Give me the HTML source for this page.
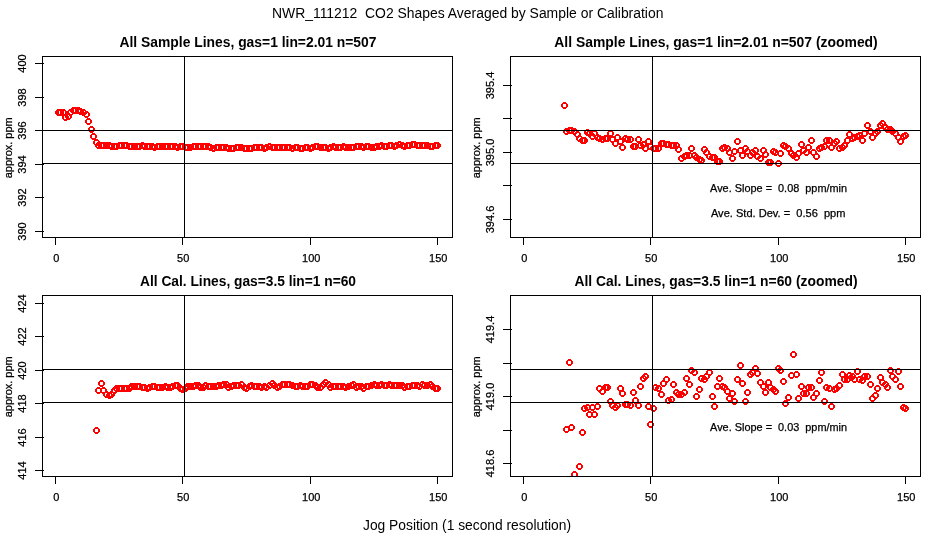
<!DOCTYPE html>
<html lang="en"><head><meta charset="utf-8"><title>NWR_111212 CO2 Shapes</title>
<style>html,body{margin:0;padding:0;background:#fff;overflow:hidden}svg{display:block}</style>
</head><body>
<svg width="936" height="540" viewBox="0 0 936 540">
<rect width="936" height="540" fill="#fff"/>
<defs><path id="o" fill-rule="evenodd" d="M2 0h3v1h1v1h1v3h-1v1h-1v1h-3v-1h-1v-1h-1v-3h1v-1h1zM2 2v3h3v-3z"/></defs>
<text font-family="Liberation Sans, sans-serif" font-size="14" text-anchor="middle" x="467.7" y="18" textLength="391.5" lengthAdjust="spacingAndGlyphs" xml:space="preserve">NWR_111212  CO2 Shapes Averaged by Sample or Calibration</text>
<text font-family="Liberation Sans, sans-serif" font-size="14" text-anchor="middle" x="467" y="529.5" textLength="208" lengthAdjust="spacingAndGlyphs">Jog Position (1 second resolution)</text>
<g>
<clipPath id="cp1"><rect x="43" y="57" width="409" height="180"/></clipPath>
<g clip-path="url(#cp1)" fill="#ff0000" shape-rendering="crispEdges">
<use href="#o" x="55" y="109"/>
<use href="#o" x="57" y="109"/>
<use href="#o" x="60" y="109"/>
<use href="#o" x="62" y="114"/>
<use href="#o" x="65" y="113"/>
<use href="#o" x="67" y="109"/>
<use href="#o" x="70" y="107"/>
<use href="#o" x="72" y="107"/>
<use href="#o" x="75" y="107"/>
<use href="#o" x="77" y="108"/>
<use href="#o" x="80" y="109"/>
<use href="#o" x="83" y="111"/>
<use href="#o" x="85" y="118"/>
<use href="#o" x="88" y="126"/>
<use href="#o" x="90" y="133"/>
<use href="#o" x="93" y="139"/>
<use href="#o" x="95" y="142"/>
<use href="#o" x="98" y="142"/>
<use href="#o" x="100" y="142"/>
<use href="#o" x="103" y="142"/>
<use href="#o" x="106" y="142"/>
<use href="#o" x="108" y="143"/>
<use href="#o" x="111" y="143"/>
<use href="#o" x="113" y="143"/>
<use href="#o" x="116" y="142"/>
<use href="#o" x="118" y="142"/>
<use href="#o" x="121" y="142"/>
<use href="#o" x="123" y="142"/>
<use href="#o" x="126" y="143"/>
<use href="#o" x="128" y="143"/>
<use href="#o" x="131" y="143"/>
<use href="#o" x="134" y="143"/>
<use href="#o" x="136" y="143"/>
<use href="#o" x="139" y="142"/>
<use href="#o" x="141" y="143"/>
<use href="#o" x="144" y="143"/>
<use href="#o" x="146" y="143"/>
<use href="#o" x="149" y="143"/>
<use href="#o" x="151" y="144"/>
<use href="#o" x="154" y="143"/>
<use href="#o" x="156" y="143"/>
<use href="#o" x="159" y="143"/>
<use href="#o" x="162" y="143"/>
<use href="#o" x="164" y="143"/>
<use href="#o" x="167" y="143"/>
<use href="#o" x="169" y="143"/>
<use href="#o" x="172" y="143"/>
<use href="#o" x="174" y="144"/>
<use href="#o" x="177" y="143"/>
<use href="#o" x="179" y="143"/>
<use href="#o" x="182" y="144"/>
<use href="#o" x="184" y="144"/>
<use href="#o" x="187" y="144"/>
<use href="#o" x="190" y="143"/>
<use href="#o" x="192" y="143"/>
<use href="#o" x="195" y="143"/>
<use href="#o" x="197" y="143"/>
<use href="#o" x="200" y="143"/>
<use href="#o" x="202" y="143"/>
<use href="#o" x="205" y="143"/>
<use href="#o" x="207" y="144"/>
<use href="#o" x="210" y="145"/>
<use href="#o" x="213" y="144"/>
<use href="#o" x="215" y="144"/>
<use href="#o" x="218" y="144"/>
<use href="#o" x="220" y="144"/>
<use href="#o" x="223" y="144"/>
<use href="#o" x="225" y="145"/>
<use href="#o" x="228" y="145"/>
<use href="#o" x="230" y="145"/>
<use href="#o" x="233" y="144"/>
<use href="#o" x="235" y="144"/>
<use href="#o" x="238" y="144"/>
<use href="#o" x="241" y="145"/>
<use href="#o" x="243" y="145"/>
<use href="#o" x="246" y="145"/>
<use href="#o" x="248" y="145"/>
<use href="#o" x="251" y="144"/>
<use href="#o" x="253" y="144"/>
<use href="#o" x="256" y="144"/>
<use href="#o" x="258" y="144"/>
<use href="#o" x="261" y="145"/>
<use href="#o" x="263" y="144"/>
<use href="#o" x="266" y="143"/>
<use href="#o" x="269" y="144"/>
<use href="#o" x="271" y="144"/>
<use href="#o" x="274" y="144"/>
<use href="#o" x="276" y="144"/>
<use href="#o" x="279" y="144"/>
<use href="#o" x="281" y="144"/>
<use href="#o" x="284" y="144"/>
<use href="#o" x="286" y="144"/>
<use href="#o" x="289" y="145"/>
<use href="#o" x="292" y="144"/>
<use href="#o" x="294" y="144"/>
<use href="#o" x="297" y="145"/>
<use href="#o" x="299" y="145"/>
<use href="#o" x="302" y="144"/>
<use href="#o" x="304" y="144"/>
<use href="#o" x="307" y="145"/>
<use href="#o" x="309" y="144"/>
<use href="#o" x="312" y="143"/>
<use href="#o" x="314" y="143"/>
<use href="#o" x="317" y="144"/>
<use href="#o" x="320" y="144"/>
<use href="#o" x="322" y="144"/>
<use href="#o" x="325" y="145"/>
<use href="#o" x="327" y="144"/>
<use href="#o" x="330" y="143"/>
<use href="#o" x="332" y="144"/>
<use href="#o" x="335" y="144"/>
<use href="#o" x="337" y="144"/>
<use href="#o" x="340" y="143"/>
<use href="#o" x="342" y="144"/>
<use href="#o" x="345" y="144"/>
<use href="#o" x="348" y="144"/>
<use href="#o" x="350" y="144"/>
<use href="#o" x="353" y="143"/>
<use href="#o" x="355" y="143"/>
<use href="#o" x="358" y="143"/>
<use href="#o" x="360" y="144"/>
<use href="#o" x="363" y="143"/>
<use href="#o" x="365" y="143"/>
<use href="#o" x="368" y="144"/>
<use href="#o" x="371" y="144"/>
<use href="#o" x="373" y="143"/>
<use href="#o" x="376" y="143"/>
<use href="#o" x="378" y="142"/>
<use href="#o" x="381" y="143"/>
<use href="#o" x="383" y="143"/>
<use href="#o" x="386" y="142"/>
<use href="#o" x="388" y="142"/>
<use href="#o" x="391" y="143"/>
<use href="#o" x="393" y="142"/>
<use href="#o" x="396" y="141"/>
<use href="#o" x="399" y="142"/>
<use href="#o" x="401" y="143"/>
<use href="#o" x="404" y="142"/>
<use href="#o" x="406" y="142"/>
<use href="#o" x="409" y="141"/>
<use href="#o" x="411" y="141"/>
<use href="#o" x="414" y="142"/>
<use href="#o" x="416" y="142"/>
<use href="#o" x="419" y="142"/>
<use href="#o" x="421" y="142"/>
<use href="#o" x="424" y="142"/>
<use href="#o" x="427" y="143"/>
<use href="#o" x="429" y="143"/>
<use href="#o" x="432" y="142"/>
<use href="#o" x="434" y="142"/>
</g>
<g fill="#000" shape-rendering="crispEdges">
<rect x="42" y="130" width="411" height="1"/>
<rect x="42" y="163" width="411" height="1"/>
<rect x="184" y="56" width="1" height="182"/>
<rect x="42" y="56" width="411" height="1"/>
<rect x="42" y="237" width="411" height="1"/>
<rect x="42" y="56" width="1" height="182"/>
<rect x="452" y="56" width="1" height="182"/>
<rect x="55" y="237" width="1" height="8"/>
<rect x="182" y="237" width="1" height="8"/>
<rect x="310" y="237" width="1" height="8"/>
<rect x="437" y="237" width="1" height="8"/>
<rect x="35" y="63" width="9" height="1"/>
<rect x="35" y="97" width="9" height="1"/>
<rect x="35" y="130" width="9" height="1"/>
<rect x="35" y="164" width="9" height="1"/>
<rect x="35" y="197" width="9" height="1"/>
<rect x="35" y="231" width="9" height="1"/>
</g>
<g font-family="Liberation Sans, sans-serif" font-size="11" fill="#000" stroke="#000" stroke-width="0.25" text-anchor="middle">
<text x="56.2" y="262">0</text>
<text x="183.2" y="262">50</text>
<text x="311.2" y="262">100</text>
<text x="438.2" y="262">150</text>
<text transform="translate(26,63.5) rotate(-90)">400</text>
<text transform="translate(26,97.5) rotate(-90)">398</text>
<text transform="translate(26,130.5) rotate(-90)">396</text>
<text transform="translate(26,164.5) rotate(-90)">394</text>
<text transform="translate(26,197.5) rotate(-90)">392</text>
<text transform="translate(26,231.5) rotate(-90)">390</text>
<text transform="translate(12,147.8) rotate(-90)" textLength="61" lengthAdjust="spacingAndGlyphs">approx. ppm</text>
</g>
<text font-family="Liberation Sans, sans-serif" font-size="14" font-weight="bold" text-anchor="middle" x="248" y="47" textLength="257" lengthAdjust="spacingAndGlyphs">All Sample Lines, gas=1 lin=2.01 n=507</text>
</g>
<g>
<clipPath id="cp2"><rect x="511" y="57" width="409" height="180"/></clipPath>
<g clip-path="url(#cp2)" fill="#ff0000" shape-rendering="crispEdges">
<use href="#o" x="561" y="102"/>
<use href="#o" x="563" y="128"/>
<use href="#o" x="566" y="127"/>
<use href="#o" x="568" y="127"/>
<use href="#o" x="571" y="128"/>
<use href="#o" x="574" y="131"/>
<use href="#o" x="576" y="135"/>
<use href="#o" x="579" y="137"/>
<use href="#o" x="581" y="137"/>
<use href="#o" x="584" y="129"/>
<use href="#o" x="586" y="130"/>
<use href="#o" x="589" y="133"/>
<use href="#o" x="591" y="130"/>
<use href="#o" x="594" y="134"/>
<use href="#o" x="596" y="135"/>
<use href="#o" x="599" y="136"/>
<use href="#o" x="602" y="135"/>
<use href="#o" x="604" y="135"/>
<use href="#o" x="607" y="130"/>
<use href="#o" x="609" y="136"/>
<use href="#o" x="612" y="140"/>
<use href="#o" x="614" y="134"/>
<use href="#o" x="617" y="138"/>
<use href="#o" x="619" y="144"/>
<use href="#o" x="622" y="135"/>
<use href="#o" x="624" y="136"/>
<use href="#o" x="627" y="136"/>
<use href="#o" x="630" y="143"/>
<use href="#o" x="632" y="143"/>
<use href="#o" x="635" y="136"/>
<use href="#o" x="637" y="142"/>
<use href="#o" x="640" y="141"/>
<use href="#o" x="642" y="145"/>
<use href="#o" x="645" y="138"/>
<use href="#o" x="647" y="143"/>
<use href="#o" x="650" y="145"/>
<use href="#o" x="652" y="145"/>
<use href="#o" x="655" y="145"/>
<use href="#o" x="658" y="140"/>
<use href="#o" x="660" y="140"/>
<use href="#o" x="663" y="141"/>
<use href="#o" x="665" y="141"/>
<use href="#o" x="668" y="142"/>
<use href="#o" x="670" y="142"/>
<use href="#o" x="673" y="142"/>
<use href="#o" x="675" y="146"/>
<use href="#o" x="678" y="155"/>
<use href="#o" x="681" y="153"/>
<use href="#o" x="683" y="152"/>
<use href="#o" x="686" y="152"/>
<use href="#o" x="688" y="145"/>
<use href="#o" x="691" y="152"/>
<use href="#o" x="693" y="154"/>
<use href="#o" x="696" y="156"/>
<use href="#o" x="698" y="157"/>
<use href="#o" x="701" y="146"/>
<use href="#o" x="703" y="149"/>
<use href="#o" x="706" y="153"/>
<use href="#o" x="709" y="154"/>
<use href="#o" x="711" y="154"/>
<use href="#o" x="714" y="158"/>
<use href="#o" x="716" y="158"/>
<use href="#o" x="719" y="145"/>
<use href="#o" x="721" y="144"/>
<use href="#o" x="724" y="145"/>
<use href="#o" x="726" y="149"/>
<use href="#o" x="729" y="155"/>
<use href="#o" x="731" y="148"/>
<use href="#o" x="734" y="138"/>
<use href="#o" x="737" y="147"/>
<use href="#o" x="739" y="152"/>
<use href="#o" x="742" y="145"/>
<use href="#o" x="744" y="148"/>
<use href="#o" x="747" y="152"/>
<use href="#o" x="749" y="149"/>
<use href="#o" x="752" y="147"/>
<use href="#o" x="754" y="153"/>
<use href="#o" x="757" y="155"/>
<use href="#o" x="760" y="147"/>
<use href="#o" x="762" y="151"/>
<use href="#o" x="765" y="159"/>
<use href="#o" x="767" y="159"/>
<use href="#o" x="770" y="148"/>
<use href="#o" x="772" y="149"/>
<use href="#o" x="775" y="160"/>
<use href="#o" x="777" y="150"/>
<use href="#o" x="780" y="142"/>
<use href="#o" x="782" y="143"/>
<use href="#o" x="785" y="145"/>
<use href="#o" x="788" y="150"/>
<use href="#o" x="790" y="152"/>
<use href="#o" x="793" y="154"/>
<use href="#o" x="795" y="150"/>
<use href="#o" x="798" y="141"/>
<use href="#o" x="800" y="147"/>
<use href="#o" x="803" y="149"/>
<use href="#o" x="805" y="144"/>
<use href="#o" x="808" y="137"/>
<use href="#o" x="810" y="149"/>
<use href="#o" x="813" y="153"/>
<use href="#o" x="816" y="145"/>
<use href="#o" x="818" y="144"/>
<use href="#o" x="821" y="143"/>
<use href="#o" x="823" y="137"/>
<use href="#o" x="826" y="137"/>
<use href="#o" x="828" y="144"/>
<use href="#o" x="831" y="140"/>
<use href="#o" x="833" y="138"/>
<use href="#o" x="836" y="145"/>
<use href="#o" x="839" y="144"/>
<use href="#o" x="841" y="142"/>
<use href="#o" x="844" y="137"/>
<use href="#o" x="846" y="131"/>
<use href="#o" x="849" y="135"/>
<use href="#o" x="851" y="134"/>
<use href="#o" x="854" y="133"/>
<use href="#o" x="856" y="132"/>
<use href="#o" x="859" y="137"/>
<use href="#o" x="861" y="130"/>
<use href="#o" x="864" y="122"/>
<use href="#o" x="867" y="128"/>
<use href="#o" x="869" y="134"/>
<use href="#o" x="872" y="130"/>
<use href="#o" x="874" y="128"/>
<use href="#o" x="877" y="122"/>
<use href="#o" x="879" y="120"/>
<use href="#o" x="882" y="124"/>
<use href="#o" x="884" y="126"/>
<use href="#o" x="887" y="126"/>
<use href="#o" x="889" y="128"/>
<use href="#o" x="892" y="130"/>
<use href="#o" x="895" y="134"/>
<use href="#o" x="897" y="138"/>
<use href="#o" x="900" y="133"/>
<use href="#o" x="902" y="132"/>
</g>
<g fill="#000" shape-rendering="crispEdges">
<rect x="510" y="130" width="411" height="1"/>
<rect x="510" y="163" width="411" height="1"/>
<rect x="652" y="56" width="1" height="182"/>
<rect x="510" y="56" width="411" height="1"/>
<rect x="510" y="237" width="411" height="1"/>
<rect x="510" y="56" width="1" height="182"/>
<rect x="920" y="56" width="1" height="182"/>
<rect x="523" y="237" width="1" height="8"/>
<rect x="650" y="237" width="1" height="8"/>
<rect x="778" y="237" width="1" height="8"/>
<rect x="905" y="237" width="1" height="8"/>
<rect x="503" y="85" width="9" height="1"/>
<rect x="503" y="118" width="9" height="1"/>
<rect x="503" y="152" width="9" height="1"/>
<rect x="503" y="185" width="9" height="1"/>
<rect x="503" y="219" width="9" height="1"/>
</g>
<g font-family="Liberation Sans, sans-serif" font-size="11" fill="#000" stroke="#000" stroke-width="0.25" text-anchor="middle">
<text x="524.2" y="262">0</text>
<text x="651.2" y="262">50</text>
<text x="779.2" y="262">100</text>
<text x="906.2" y="262">150</text>
<text transform="translate(494,85.5) rotate(-90)">395.4</text>
<text transform="translate(494,152.5) rotate(-90)">395.0</text>
<text transform="translate(494,219.5) rotate(-90)">394.6</text>
<text transform="translate(480,147.8) rotate(-90)" textLength="61" lengthAdjust="spacingAndGlyphs">approx. ppm</text>
<text x="778.6" y="192" textLength="137" lengthAdjust="spacingAndGlyphs" xml:space="preserve">Ave. Slope =  0.08  ppm/min</text>
<text x="778.2" y="216.5" textLength="134.5" lengthAdjust="spacingAndGlyphs" xml:space="preserve">Ave. Std. Dev. =  0.56  ppm</text>
</g>
<text font-family="Liberation Sans, sans-serif" font-size="14" font-weight="bold" text-anchor="middle" x="716" y="47" textLength="323.5" lengthAdjust="spacingAndGlyphs">All Sample Lines, gas=1 lin=2.01 n=507 (zoomed)</text>
</g>
<g>
<clipPath id="cp3"><rect x="43" y="296" width="409" height="180"/></clipPath>
<g clip-path="url(#cp3)" fill="#ff0000" shape-rendering="crispEdges">
<use href="#o" x="93" y="427"/>
<use href="#o" x="95" y="387"/>
<use href="#o" x="98" y="380"/>
<use href="#o" x="100" y="387"/>
<use href="#o" x="103" y="391"/>
<use href="#o" x="106" y="392"/>
<use href="#o" x="108" y="391"/>
<use href="#o" x="111" y="387"/>
<use href="#o" x="113" y="385"/>
<use href="#o" x="116" y="385"/>
<use href="#o" x="118" y="385"/>
<use href="#o" x="121" y="385"/>
<use href="#o" x="123" y="385"/>
<use href="#o" x="126" y="385"/>
<use href="#o" x="128" y="383"/>
<use href="#o" x="131" y="383"/>
<use href="#o" x="134" y="383"/>
<use href="#o" x="136" y="383"/>
<use href="#o" x="139" y="384"/>
<use href="#o" x="141" y="384"/>
<use href="#o" x="144" y="385"/>
<use href="#o" x="146" y="384"/>
<use href="#o" x="149" y="383"/>
<use href="#o" x="151" y="383"/>
<use href="#o" x="154" y="384"/>
<use href="#o" x="156" y="384"/>
<use href="#o" x="159" y="384"/>
<use href="#o" x="162" y="383"/>
<use href="#o" x="164" y="384"/>
<use href="#o" x="167" y="384"/>
<use href="#o" x="169" y="383"/>
<use href="#o" x="172" y="382"/>
<use href="#o" x="174" y="382"/>
<use href="#o" x="177" y="385"/>
<use href="#o" x="179" y="386"/>
<use href="#o" x="182" y="385"/>
<use href="#o" x="184" y="383"/>
<use href="#o" x="187" y="383"/>
<use href="#o" x="190" y="383"/>
<use href="#o" x="192" y="382"/>
<use href="#o" x="195" y="382"/>
<use href="#o" x="197" y="384"/>
<use href="#o" x="200" y="384"/>
<use href="#o" x="202" y="382"/>
<use href="#o" x="205" y="383"/>
<use href="#o" x="207" y="383"/>
<use href="#o" x="210" y="383"/>
<use href="#o" x="213" y="383"/>
<use href="#o" x="215" y="382"/>
<use href="#o" x="218" y="382"/>
<use href="#o" x="220" y="381"/>
<use href="#o" x="223" y="381"/>
<use href="#o" x="225" y="384"/>
<use href="#o" x="228" y="383"/>
<use href="#o" x="230" y="382"/>
<use href="#o" x="233" y="382"/>
<use href="#o" x="235" y="382"/>
<use href="#o" x="238" y="381"/>
<use href="#o" x="241" y="384"/>
<use href="#o" x="243" y="385"/>
<use href="#o" x="246" y="383"/>
<use href="#o" x="248" y="382"/>
<use href="#o" x="251" y="383"/>
<use href="#o" x="253" y="383"/>
<use href="#o" x="256" y="383"/>
<use href="#o" x="258" y="384"/>
<use href="#o" x="261" y="383"/>
<use href="#o" x="263" y="384"/>
<use href="#o" x="266" y="382"/>
<use href="#o" x="269" y="380"/>
<use href="#o" x="271" y="382"/>
<use href="#o" x="274" y="384"/>
<use href="#o" x="276" y="383"/>
<use href="#o" x="279" y="381"/>
<use href="#o" x="281" y="381"/>
<use href="#o" x="284" y="381"/>
<use href="#o" x="286" y="381"/>
<use href="#o" x="289" y="382"/>
<use href="#o" x="292" y="383"/>
<use href="#o" x="294" y="383"/>
<use href="#o" x="297" y="382"/>
<use href="#o" x="299" y="383"/>
<use href="#o" x="302" y="383"/>
<use href="#o" x="304" y="383"/>
<use href="#o" x="307" y="381"/>
<use href="#o" x="309" y="381"/>
<use href="#o" x="312" y="382"/>
<use href="#o" x="314" y="384"/>
<use href="#o" x="317" y="384"/>
<use href="#o" x="320" y="381"/>
<use href="#o" x="322" y="379"/>
<use href="#o" x="325" y="381"/>
<use href="#o" x="327" y="384"/>
<use href="#o" x="330" y="383"/>
<use href="#o" x="332" y="383"/>
<use href="#o" x="335" y="383"/>
<use href="#o" x="337" y="383"/>
<use href="#o" x="340" y="383"/>
<use href="#o" x="342" y="384"/>
<use href="#o" x="345" y="383"/>
<use href="#o" x="348" y="382"/>
<use href="#o" x="350" y="381"/>
<use href="#o" x="353" y="384"/>
<use href="#o" x="355" y="383"/>
<use href="#o" x="358" y="383"/>
<use href="#o" x="360" y="385"/>
<use href="#o" x="363" y="383"/>
<use href="#o" x="365" y="383"/>
<use href="#o" x="368" y="382"/>
<use href="#o" x="371" y="381"/>
<use href="#o" x="373" y="382"/>
<use href="#o" x="376" y="382"/>
<use href="#o" x="378" y="381"/>
<use href="#o" x="381" y="382"/>
<use href="#o" x="383" y="382"/>
<use href="#o" x="386" y="381"/>
<use href="#o" x="388" y="382"/>
<use href="#o" x="391" y="382"/>
<use href="#o" x="393" y="382"/>
<use href="#o" x="396" y="382"/>
<use href="#o" x="399" y="382"/>
<use href="#o" x="401" y="384"/>
<use href="#o" x="404" y="383"/>
<use href="#o" x="406" y="383"/>
<use href="#o" x="409" y="382"/>
<use href="#o" x="411" y="382"/>
<use href="#o" x="414" y="382"/>
<use href="#o" x="416" y="383"/>
<use href="#o" x="419" y="381"/>
<use href="#o" x="421" y="382"/>
<use href="#o" x="424" y="382"/>
<use href="#o" x="427" y="381"/>
<use href="#o" x="429" y="383"/>
<use href="#o" x="432" y="385"/>
<use href="#o" x="434" y="385"/>
</g>
<g fill="#000" shape-rendering="crispEdges">
<rect x="42" y="369" width="411" height="1"/>
<rect x="42" y="402" width="411" height="1"/>
<rect x="184" y="295" width="1" height="182"/>
<rect x="42" y="295" width="411" height="1"/>
<rect x="42" y="476" width="411" height="1"/>
<rect x="42" y="295" width="1" height="182"/>
<rect x="452" y="295" width="1" height="182"/>
<rect x="55" y="476" width="1" height="8"/>
<rect x="182" y="476" width="1" height="8"/>
<rect x="310" y="476" width="1" height="8"/>
<rect x="437" y="476" width="1" height="8"/>
<rect x="35" y="303" width="9" height="1"/>
<rect x="35" y="336" width="9" height="1"/>
<rect x="35" y="370" width="9" height="1"/>
<rect x="35" y="403" width="9" height="1"/>
<rect x="35" y="437" width="9" height="1"/>
<rect x="35" y="470" width="9" height="1"/>
</g>
<g font-family="Liberation Sans, sans-serif" font-size="11" fill="#000" stroke="#000" stroke-width="0.25" text-anchor="middle">
<text x="56.2" y="501">0</text>
<text x="183.2" y="501">50</text>
<text x="311.2" y="501">100</text>
<text x="438.2" y="501">150</text>
<text transform="translate(26,303.5) rotate(-90)">424</text>
<text transform="translate(26,336.5) rotate(-90)">422</text>
<text transform="translate(26,370.5) rotate(-90)">420</text>
<text transform="translate(26,403.5) rotate(-90)">418</text>
<text transform="translate(26,437.5) rotate(-90)">416</text>
<text transform="translate(26,470.5) rotate(-90)">414</text>
<text transform="translate(12,386.8) rotate(-90)" textLength="61" lengthAdjust="spacingAndGlyphs">approx. ppm</text>
</g>
<text font-family="Liberation Sans, sans-serif" font-size="14" font-weight="bold" text-anchor="middle" x="248" y="286" textLength="216" lengthAdjust="spacingAndGlyphs">All Cal. Lines, gas=3.5 lin=1 n=60</text>
</g>
<g>
<clipPath id="cp4"><rect x="511" y="296" width="409" height="180"/></clipPath>
<g clip-path="url(#cp4)" fill="#ff0000" shape-rendering="crispEdges">
<use href="#o" x="563" y="426"/>
<use href="#o" x="566" y="359"/>
<use href="#o" x="568" y="424"/>
<use href="#o" x="571" y="471"/>
<use href="#o" x="576" y="463"/>
<use href="#o" x="579" y="429"/>
<use href="#o" x="581" y="405"/>
<use href="#o" x="584" y="404"/>
<use href="#o" x="586" y="411"/>
<use href="#o" x="589" y="404"/>
<use href="#o" x="591" y="411"/>
<use href="#o" x="594" y="403"/>
<use href="#o" x="596" y="385"/>
<use href="#o" x="599" y="388"/>
<use href="#o" x="602" y="384"/>
<use href="#o" x="604" y="384"/>
<use href="#o" x="607" y="398"/>
<use href="#o" x="609" y="402"/>
<use href="#o" x="612" y="404"/>
<use href="#o" x="614" y="402"/>
<use href="#o" x="617" y="385"/>
<use href="#o" x="619" y="390"/>
<use href="#o" x="622" y="401"/>
<use href="#o" x="624" y="401"/>
<use href="#o" x="627" y="402"/>
<use href="#o" x="630" y="389"/>
<use href="#o" x="632" y="397"/>
<use href="#o" x="635" y="402"/>
<use href="#o" x="637" y="383"/>
<use href="#o" x="640" y="375"/>
<use href="#o" x="642" y="373"/>
<use href="#o" x="645" y="403"/>
<use href="#o" x="647" y="421"/>
<use href="#o" x="650" y="405"/>
<use href="#o" x="652" y="384"/>
<use href="#o" x="655" y="385"/>
<use href="#o" x="658" y="391"/>
<use href="#o" x="660" y="380"/>
<use href="#o" x="663" y="376"/>
<use href="#o" x="665" y="397"/>
<use href="#o" x="668" y="396"/>
<use href="#o" x="670" y="381"/>
<use href="#o" x="673" y="389"/>
<use href="#o" x="675" y="391"/>
<use href="#o" x="678" y="391"/>
<use href="#o" x="681" y="389"/>
<use href="#o" x="683" y="375"/>
<use href="#o" x="686" y="381"/>
<use href="#o" x="688" y="367"/>
<use href="#o" x="691" y="369"/>
<use href="#o" x="693" y="393"/>
<use href="#o" x="696" y="386"/>
<use href="#o" x="698" y="375"/>
<use href="#o" x="701" y="376"/>
<use href="#o" x="703" y="373"/>
<use href="#o" x="706" y="369"/>
<use href="#o" x="709" y="393"/>
<use href="#o" x="711" y="403"/>
<use href="#o" x="714" y="383"/>
<use href="#o" x="716" y="375"/>
<use href="#o" x="719" y="383"/>
<use href="#o" x="721" y="384"/>
<use href="#o" x="724" y="388"/>
<use href="#o" x="726" y="395"/>
<use href="#o" x="729" y="390"/>
<use href="#o" x="731" y="398"/>
<use href="#o" x="734" y="376"/>
<use href="#o" x="737" y="362"/>
<use href="#o" x="739" y="380"/>
<use href="#o" x="742" y="398"/>
<use href="#o" x="744" y="389"/>
<use href="#o" x="747" y="371"/>
<use href="#o" x="749" y="369"/>
<use href="#o" x="752" y="365"/>
<use href="#o" x="754" y="370"/>
<use href="#o" x="757" y="379"/>
<use href="#o" x="760" y="383"/>
<use href="#o" x="762" y="389"/>
<use href="#o" x="765" y="379"/>
<use href="#o" x="767" y="384"/>
<use href="#o" x="770" y="386"/>
<use href="#o" x="772" y="388"/>
<use href="#o" x="775" y="365"/>
<use href="#o" x="777" y="367"/>
<use href="#o" x="780" y="378"/>
<use href="#o" x="782" y="400"/>
<use href="#o" x="785" y="394"/>
<use href="#o" x="788" y="372"/>
<use href="#o" x="790" y="351"/>
<use href="#o" x="793" y="371"/>
<use href="#o" x="795" y="395"/>
<use href="#o" x="798" y="383"/>
<use href="#o" x="800" y="390"/>
<use href="#o" x="803" y="390"/>
<use href="#o" x="805" y="384"/>
<use href="#o" x="808" y="384"/>
<use href="#o" x="810" y="394"/>
<use href="#o" x="813" y="390"/>
<use href="#o" x="816" y="377"/>
<use href="#o" x="818" y="369"/>
<use href="#o" x="821" y="398"/>
<use href="#o" x="823" y="384"/>
<use href="#o" x="826" y="385"/>
<use href="#o" x="828" y="403"/>
<use href="#o" x="831" y="386"/>
<use href="#o" x="833" y="385"/>
<use href="#o" x="836" y="382"/>
<use href="#o" x="839" y="371"/>
<use href="#o" x="841" y="376"/>
<use href="#o" x="844" y="376"/>
<use href="#o" x="846" y="372"/>
<use href="#o" x="849" y="373"/>
<use href="#o" x="851" y="376"/>
<use href="#o" x="854" y="368"/>
<use href="#o" x="856" y="376"/>
<use href="#o" x="859" y="377"/>
<use href="#o" x="861" y="373"/>
<use href="#o" x="864" y="373"/>
<use href="#o" x="867" y="381"/>
<use href="#o" x="869" y="395"/>
<use href="#o" x="872" y="392"/>
<use href="#o" x="874" y="385"/>
<use href="#o" x="877" y="374"/>
<use href="#o" x="879" y="379"/>
<use href="#o" x="882" y="381"/>
<use href="#o" x="884" y="384"/>
<use href="#o" x="887" y="367"/>
<use href="#o" x="889" y="373"/>
<use href="#o" x="892" y="376"/>
<use href="#o" x="895" y="368"/>
<use href="#o" x="897" y="383"/>
<use href="#o" x="900" y="404"/>
<use href="#o" x="902" y="405"/>
</g>
<g fill="#000" shape-rendering="crispEdges">
<rect x="510" y="369" width="411" height="1"/>
<rect x="510" y="402" width="411" height="1"/>
<rect x="652" y="295" width="1" height="182"/>
<rect x="510" y="295" width="411" height="1"/>
<rect x="510" y="476" width="411" height="1"/>
<rect x="510" y="295" width="1" height="182"/>
<rect x="920" y="295" width="1" height="182"/>
<rect x="523" y="476" width="1" height="8"/>
<rect x="650" y="476" width="1" height="8"/>
<rect x="778" y="476" width="1" height="8"/>
<rect x="905" y="476" width="1" height="8"/>
<rect x="503" y="329" width="9" height="1"/>
<rect x="503" y="363" width="9" height="1"/>
<rect x="503" y="396" width="9" height="1"/>
<rect x="503" y="430" width="9" height="1"/>
<rect x="503" y="463" width="9" height="1"/>
</g>
<g font-family="Liberation Sans, sans-serif" font-size="11" fill="#000" stroke="#000" stroke-width="0.25" text-anchor="middle">
<text x="524.2" y="501">0</text>
<text x="651.2" y="501">50</text>
<text x="779.2" y="501">100</text>
<text x="906.2" y="501">150</text>
<text transform="translate(494,329.5) rotate(-90)">419.4</text>
<text transform="translate(494,396.5) rotate(-90)">419.0</text>
<text transform="translate(494,463.5) rotate(-90)">418.6</text>
<text transform="translate(480,386.8) rotate(-90)" textLength="61" lengthAdjust="spacingAndGlyphs">approx. ppm</text>
<text x="778.6" y="431" textLength="137" lengthAdjust="spacingAndGlyphs" xml:space="preserve">Ave. Slope =  0.03  ppm/min</text>
</g>
<text font-family="Liberation Sans, sans-serif" font-size="14" font-weight="bold" text-anchor="middle" x="716" y="286" textLength="283" lengthAdjust="spacingAndGlyphs">All Cal. Lines, gas=3.5 lin=1 n=60 (zoomed)</text>
</g>
</svg>
</body></html>
